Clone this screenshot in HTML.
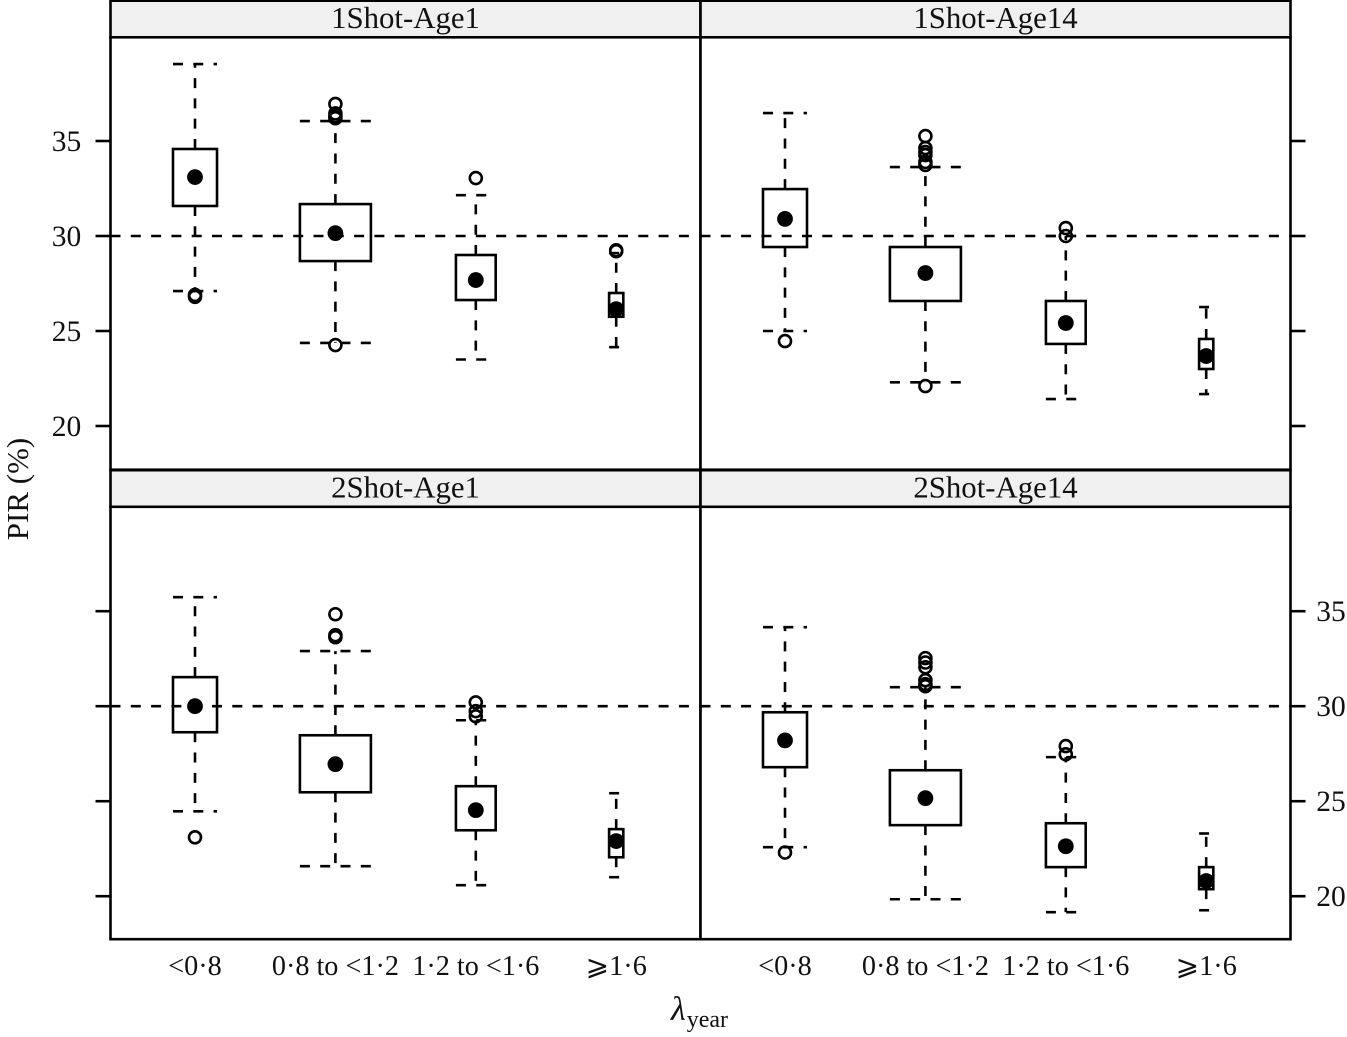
<!DOCTYPE html>
<html>
<head>
<meta charset="utf-8">
<title>PIR by lambda year</title>
<style>
html,body{margin:0;padding:0;background:#fff;}
svg{display:block;}
text{font-family:"Liberation Serif","DejaVu Serif",serif;fill:#111;}
</style>
</head>
<body>
<svg id="chart" xmlns="http://www.w3.org/2000/svg" width="1347" height="1037" viewBox="0 0 1347 1037"></svg>
<script>
const categories = ['<0·8', '0·8 to <1·2', '1·2 to <1·6', '\u2A7E1·6'];
const relativeWidths = [0.62, 1, 0.56, 0.2];
const yTicks = [20, 25, 30, 35];
const referenceValue = 30;
const panelTitles = ['1Shot-Age1', '1Shot-Age14', '2Shot-Age1', '2Shot-Age14'];

const whiskerHigh = [
  [39.05, 36.05, 32.15, 29.1],
  [36.47, 33.63, 30.0, 26.26],
  [35.74, 32.9, 29.26, 25.42],
  [34.16, 31.0, 27.32, 23.3]
];
const boxHigh = [
  [34.58, 31.68, 29.0, 27.0],
  [32.47, 29.42, 26.58, 24.58],
  [31.53, 28.47, 25.79, 23.53],
  [29.68, 26.63, 23.84, 21.53]
];
const medians = [
  [33.1, 30.15, 27.68, 26.15],
  [30.9, 28.05, 25.42, 23.68],
  [30.0, 26.95, 24.53, 22.9],
  [28.2, 25.16, 22.63, 20.8]
];
const boxLow = [
  [31.58, 28.68, 26.63, 25.75],
  [29.42, 26.58, 24.32, 23.0],
  [28.63, 25.47, 23.47, 22.05],
  [26.79, 23.74, 21.53, 20.37]
];
const whiskerLow = [
  [27.1, 24.37, 23.5, 24.15],
  [25.0, 22.3, 21.42, 21.68],
  [24.47, 21.58, 20.58, 21.0],
  [22.58, 19.84, 19.16, 19.26]
];
const outliers = [
  [[26.8, 26.9], [36.95, 36.45, 36.3, 36.2, 24.26], [33.05], [29.2, 29.25]],
  [[24.47], [35.26, 34.63, 34.42, 34.26, 33.9, 33.74, 22.1], [30.42, 30.0], []],
  [[23.1], [34.84, 33.74, 33.63], [30.2, 29.74, 29.47], []],
  [[22.3], [32.53, 32.3, 32.05, 31.37, 31.16, 31.05], [27.9, 27.47], []]
];

const NS = 'http://www.w3.org/2000/svg';
const svg = document.getElementById('chart');
const FONT = 29.5;
const STRIP_FONT = 30.8;
const CAT_FONT = 28.2;
const LW = 2.6;
const DASH = '10 10.3';
const colLeft = [110.5, 700.5];
const colWidth = 590;
const rowBottom = [469.7, 939.2];
const rowScaleBottom = [469.7, 939.9];
const plotHeight = 432.4;
const stripHeight = 36.6;
const domainMin = 17.7;
const pxPerUnit = 19;
const firstCat = 84.5;
const catStep = 140.4;
const maxBoxWidth = 71;

function yScale(row, v) { return rowScaleBottom[row] - (v - domainMin) * pxPerUnit; }
function xScale(col, i) { return colLeft[col] + firstCat + i * catStep; }

function make(tag, attrs, parent) {
  const node = document.createElementNS(NS, tag);
  for (const k in attrs) node.setAttribute(k, attrs[k]);
  (parent || svg).appendChild(node);
  return node;
}
function line(x1, y1, x2, y2, dashed, parent) {
  const a = {x1: x1, y1: y1, x2: x2, y2: y2, stroke: '#000', 'stroke-width': LW};
  if (dashed) a['stroke-dasharray'] = DASH;
  return make('line', a, parent);
}

panelTitles.forEach(function (title, p) {
  const col = p % 2;
  const row = Math.floor(p / 2);
  const left = colLeft[col];
  const bottom = rowBottom[row];
  const top = bottom - plotHeight;

  const group = make('g', {});
  
  

  const strip = make('rect', {x: left, y: top - stripHeight, width: colWidth, height: stripHeight, fill: '#f0f0f0', stroke: '#000', 'stroke-width': LW}, group);
  
  

  const stripText = make('text', {x: left + colWidth / 2, y: top - 9.5, 'text-anchor': 'middle', 'font-size': STRIP_FONT}, group);
  stripText.textContent = title;
  
  

  const frame = make('rect', {x: left, y: top, width: colWidth, height: plotHeight, fill: '#fff', stroke: '#000', 'stroke-width': LW}, group);
  
  

  const ref = line(left, yScale(row, referenceValue), left + colWidth, yScale(row, referenceValue), true, group);
  
  

  categories.forEach(function (cat, i) {
    const x = xScale(col, i);
    const w = maxBoxWidth * relativeWidths[i];
    const bh = yScale(row, boxHigh[p][i]);
    const bl = yScale(row, boxLow[p][i]);
    const wh = yScale(row, whiskerHigh[p][i]);
    const wl = yScale(row, whiskerLow[p][i]);

    const box = make('g', {}, group);
    
    

    const upper = line(x, bh, x, wh, true, box);
    
    

    const lower = line(x, bl, x, wl, true, box);
    
    

    const capHigh = line(x - w / 2, wh, x + w / 2, wh, true, box);
    
    

    const capLow = line(x - w / 2, wl, x + w / 2, wl, true, box);
    
    

    const rect = make('rect', {x: x - w / 2, y: bh, width: w, height: bl - bh, fill: 'none', stroke: '#000', 'stroke-width': LW}, box);
    
    

    const med = make('circle', {cx: x, cy: yScale(row, medians[p][i]), r: 7.9, fill: '#000'}, box);
    
    

    outliers[p][i].forEach(function (v) {
      const o = make('circle', {cx: x, cy: yScale(row, v), r: 6, fill: 'none', stroke: '#000', 'stroke-width': LW}, box);
      
      
    });
  });
});

[0, 1].forEach(function (row) {
  yTicks.forEach(function (t) {
    const y = yScale(row, t);
    const leftTick = line(colLeft[0] - 15, y, colLeft[0], y, false);
    
    

    const rightEdge = colLeft[1] + colWidth;
    const rightTick = line(rightEdge, y, rightEdge + 15, y, false);
    
    

    const label = make('text', {
      x: row === 0 ? 66.5 : 1331,
      y: y + 10,
      'text-anchor': 'middle',
      'font-size': FONT
    });
    label.textContent = String(t);
    
    
  });
});

[0, 1].forEach(function (col) {
  categories.forEach(function (cat, i) {
    const label = make('text', {x: xScale(col, i), y: 975, 'text-anchor': 'middle', 'font-size': CAT_FONT});
    label.textContent = cat;
    
    
  });
});

const yTitle = make('text', {x: 0, y: 0, 'text-anchor': 'middle', 'font-size': 31, transform: 'translate(28 489) rotate(-90)'});
yTitle.textContent = 'PIR (%)';



const xTitle = make('text', {x: 671, y: 1020, 'font-size': 34});


const lam = make('tspan', {'font-style': 'italic'}, xTitle);
lam.textContent = '\u03BB';
const sub = make('tspan', {'font-size': 24, dy: 7, dx: 1}, xTitle);
sub.textContent = 'year';
</script>
</body>
</html>
